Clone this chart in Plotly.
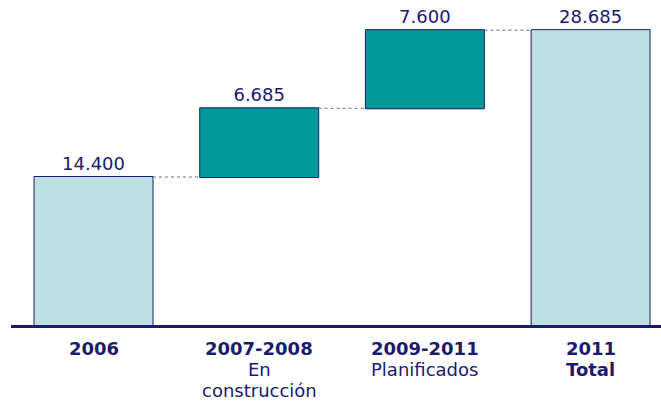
import plotly.graph_objects as go

categories = ["2006", "2007-2008", "2009-2011", "2011"]
tick_lines = [
    [("2006", True)],
    [("2007-2008", True), ("En", False), ("construcción", False)],
    [("2009-2011", True), ("Planificados", False)],
    [("2011", True), ("Total", True)],
]
values = [14400, 6685, 7600]
measures = ["absolute", "relative", "relative", "total"]

total = sum(values)
y_vals = values + [0]
labels = [f"{v:,}".replace(",", ".") for v in values + [total]]

NAVY = "#1a1a6e"
x_pos = list(range(len(categories)))

fig = go.Figure(go.Waterfall(
    x=x_pos,
    y=y_vals,
    measure=measures,
    text=labels,
    textposition="outside",
    textfont=dict(family="DejaVu Sans", size=18, color=NAVY),
    increasing=dict(marker=dict(color="#009999", line=dict(color=NAVY, width=1))),
    decreasing=dict(marker=dict(color="#009999", line=dict(color=NAVY, width=1))),
    totals=dict(marker=dict(color="#bce0e3", line=dict(color=NAVY, width=1))),
    connector=dict(mode="between", line=dict(color="#6a6a96", width=1, dash="dot")),
    cliponaxis=False,
    hoverinfo="skip",
))

annotations = []
for xi, lines in zip(x_pos, tick_lines):
    for li, (txt, bold) in enumerate(lines):
        annotations.append(dict(
            x=xi, y=0, xref="x", yref="y",
            text=f"<b>{txt}</b>" if bold else txt,
            showarrow=False, yanchor="middle", xanchor="center",
            yshift=-23 - 21 * li,
            font=dict(family="DejaVu Sans", size=18, color=NAVY),
        ))

fig.update_layout(
    width=661, height=401,
    margin=dict(l=11, r=0, t=0, b=76, autoexpand=False),
    plot_bgcolor="white", paper_bgcolor="white",
    waterfallgap=0.282,
    showlegend=False,
    annotations=annotations,
    xaxis=dict(range=[-0.498, 3.425], tickvals=x_pos, showticklabels=False,
               showline=True, linecolor=NAVY, linewidth=3, ticks="",
               showgrid=False, zeroline=False, automargin=False),
    yaxis=dict(range=[0, 31621], visible=False, showgrid=False, zeroline=False,
               automargin=False),
)

fig.write_html("out.html", config={"displayModeBar": False, "staticPlot": True},
               post_script="document.body.style.margin='0';document.body.style.overflow='hidden';")
